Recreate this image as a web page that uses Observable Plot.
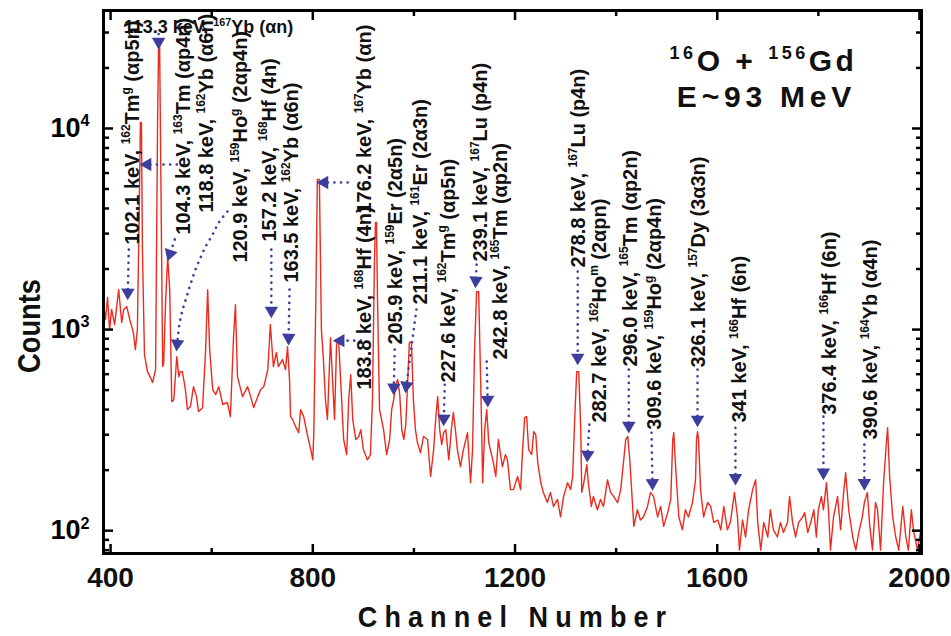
<!DOCTYPE html>
<html><head><meta charset="utf-8">
<script src="https://cdn.jsdelivr.net/npm/d3@7"></script>
<script src="https://cdn.jsdelivr.net/npm/@observablehq/plot@0.6"></script>
<style>
html,body{margin:0;padding:0;background:#fff;}
#chart{width:951px;height:636px;}
</style></head><body><div id="chart"></div>
<script>
// ---- data ----
const spectrum = [
[386,1331],[390,1122],[394,1443],[398,1000],[402,1259],[408,1059],[416,1580],[422,1083],[426,1259],[432,1301],
[438,1122],[445,966],[449,795],[453,1000],[457,4430],[459,10710],[461,10710],[463,2500],[467,751],[473,618],
[479,577],[483,545],[489,632],[493,11090],[495,25600],[497,25600],[499,7870],[503,655],[505,680],[509,1410],
[513,2280],[517,1580],[521,438],[525,448],[531,734],[535,583],[538,618],[542,618],[548,503],[552,400],
[558,414],[564,520],[570,464],[574,391],[582,409],[588,795],[592,1580],[596,795],[602,503],[608,475],
[614,520],[622,424],[631,434],[637,369],[643,892],[647,1331],[651,583],[661,464],[671,520],[677,464],
[683,409],[691,464],[697,503],[703,520],[711,632],[716,1059],[722,655],[728,769],[732,655],[740,709],
[746,632],[750,822],[754,564],[756,369],[760,357],[766,329],[772,307],[776,400],[782,369],[790,294],
[796,253],[800,225],[802,307],[806,1410],[809,5580],[813,5580],[817,1000],[821,709],[825,448],[829,357],
[835,912],[839,564],[843,357],[847,842],[851,892],[855,564],[861,284],[867,239],[871,448],[875,597],
[879,357],[885,284],[891,294],[895,318],[900,253],[908,225],[914,239],[918,448],[922,2230],[924,3410],
[926,3410],[928,1410],[932,400],[936,357],[940,318],[946,239],[952,284],[956,400],[960,448],[964,532],
[968,564],[972,475],[976,318],[980,284],[984,337],[987,503],[991,861],[995,871],[999,448],[1003,318],
[1007,274],[1013,244],[1019,294],[1027,284],[1033,186],[1039,253],[1043,357],[1047,464],[1051,318],[1055,268],
[1059,307],[1063,318],[1069,225],[1074,318],[1078,387],[1082,318],[1086,253],[1092,208],[1098,253],[1106,307],
[1112,173],[1116,253],[1120,795],[1124,1545],[1128,1545],[1132,564],[1136,173],[1140,318],[1144,400],[1148,274],
[1156,225],[1162,186],[1167,284],[1175,208],[1181,239],[1185,225],[1191,160],[1197,160],[1205,186],[1211,160],
[1215,253],[1219,365],[1223,369],[1227,253],[1233,239],[1237,311],[1241,300],[1245,218],[1251,173],[1256,155],
[1264,138],[1270,155],[1276,132],[1284,143],[1290,117],[1296,148],[1304,173],[1310,160],[1314,186],[1318,357],
[1322,618],[1326,618],[1330,318],[1332,155],[1336,173],[1342,213],[1345,173],[1351,132],[1355,148],[1363,127],
[1369,143],[1375,132],[1383,179],[1389,155],[1395,148],[1403,138],[1409,160],[1415,225],[1419,284],[1423,294],
[1427,225],[1429,186],[1435,105],[1442,127],[1448,113],[1454,117],[1462,132],[1468,155],[1474,148],[1482,117],
[1488,132],[1494,105],[1502,123],[1508,143],[1512,284],[1514,307],[1518,201],[1524,117],[1531,101],[1537,127],
[1543,117],[1551,138],[1557,179],[1559,284],[1561,311],[1563,284],[1567,160],[1573,117],[1581,138],[1587,132],
[1593,110],[1601,113],[1607,101],[1613,132],[1620,101],[1626,110],[1634,155],[1640,117],[1644,80],[1650,113],
[1656,93],[1662,127],[1670,160],[1676,179],[1680,110],[1686,80],[1692,110],[1700,93],[1705,127],[1711,101],
[1719,93],[1725,110],[1731,98],[1739,110],[1743,148],[1749,110],[1755,93],[1761,110],[1769,117],[1773,123],
[1779,98],[1785,110],[1791,127],[1796,93],[1800,127],[1806,148],[1810,127],[1816,173],[1820,127],[1824,80],
[1830,117],[1838,148],[1844,101],[1850,155],[1854,194],[1860,127],[1868,93],[1874,80],[1880,98],[1887,117],
[1891,138],[1897,155],[1901,110],[1907,80],[1913,138],[1917,127],[1923,80],[1929,173],[1935,284],[1937,325],
[1941,186],[1947,117],[1953,93],[1959,80],[1967,132],[1973,93],[1978,80],[1984,127],[1988,101],[1996,80],[2002,98]
];

const xTickLabels = [400, 800, 1200, 1600, 2000];
const xMinorTicks = [600, 1000, 1400, 1800];
const yTickLabels = [100, 1000, 10000];
const yMinorTicks = [80, 90, 200, 300, 400, 500, 600, 700, 800, 900, 2000, 3000, 4000, 5000, 6000, 7000, 8000, 9000, 20000, 30000];

// peak labels: text, channel of text column, count where the text starts
const peakLabels = [
  ["102.1 keV, ^{162}Tm^{g} (αp5n)", 442, 2649],
  ["104.3 keV, ^{163}Tm (αp4n)", 544, 2971],
  ["118.8 keV, ^{162}Yb (α6n)", 590, 3818],
  ["120.9 keV, ^{159}Ho^{g} (2αp4n)", 657, 2153],
  ["157.2 keV, ^{168}Hf (4n)", 713, 2741],
  ["163.5 keV, ^{162}Yb (α6n)", 758, 1714],
  ["176.2 keV, ^{167}Yb (αn)", 902, 3776],
  ["183.8 keV, ^{168}Hf (4n)", 902, 503],
  ["205.9 keV, ^{159}Er (2α5n)", 964, 842],
  ["211.1 keV, ^{161}Er (2α3n)", 1013, 1331],
  ["227.6 keV, ^{162}Tm^{g} (αp5n)", 1067, 545],
  ["239.1 keV, ^{167}Lu (p4n)", 1132, 2179],
  ["242.8 keV, ^{165}Tm (αp2n)", 1171, 709],
  ["278.8 keV, ^{167}Lu (p4n)", 1326, 2033],
  ["282.7 keV, ^{162}Ho^{m} (2αpn)", 1367, 345],
  ["296.0 keV, ^{165}Tm (αp2n)", 1427, 655],
  ["309.6 keV, ^{159}Ho^{g} (2αp4n)", 1476, 318],
  ["326.1 keV, ^{157}Dy (3α3n)", 1563, 647],
  ["341 keV, ^{166}Hf (6n)", 1644, 345],
  ["376.4 keV, ^{166}Hf (6n)", 1822, 377],
  ["390.6 keV, ^{164}Yb (α4n)", 1903, 284]
];
const topLabel = ["113.3 keV, ^{167}Yb (αn)", 426, 31800];

// arrows: list of [channel, count] points from tail to tip
const arrows = [
  [[436,2500],[434,1460]],
  [[495,29500],[495,25800]],
  [[531,6620],[465,6620]],
  [[527,2806],[515,2280]],
  [[631,3864],[614,3406],[602,2971],[588,2588],[578,2280],[568,1990],[558,1675],[550,1443],[542,1244],[536,1059],[533,912],[531,813]],
  [[718,2500],[718,1188]],
  [[754,1580],[752,871]],
  [[869,5390],[815,5390]],
  [[895,881],[847,881]],
  [[962,795],[960,492]],
  [[1005,1259],[984,503]],
  [[1061,532],[1059,345]],
  [[1124,2104],[1122,1675]],
  [[1144,693],[1146,428]],
  [[1324,1944],[1324,693]],
  [[1347,337],[1343,228]],
  [[1425,632],[1425,318]],
  [[1470,307],[1472,165]],
  [[1561,632],[1561,341]],
  [[1636,325],[1636,175]],
  [[1810,369],[1810,186]],
  [[1891,268],[1891,165]]
];

const titleLines = ["^{16}O + ^{156}Gd", "E~93 MeV"];
const xTitle = "Channel Number";
const yTitle = "Counts";

// ---- layout ----
const W = 951, H = 636;
const M = {top: 10, right: 30, bottom: 83, left: 103};
const xDomain = [386, 2004], yDomain = [77, 38600];
const FONT = '"Liberation Sans",Arial,Helvetica,sans-serif';
const RED = "#ec2b1f", BLUE = "#3d3d9e";

// mirror of plot scales used only to orient arrowheads
const xs = d3.scaleLinear(xDomain, [M.left, W - M.right]);
const ys = d3.scaleLog(yDomain, [H - M.bottom, M.top]);

const specData = spectrum.map(([ch, c]) => ({ch, c}));
const labelData = peakLabels.map(([t, ch, c]) => ({t, ch, c}));
const lineData = arrows.flatMap((pts, i) => pts.map(([ch, c]) => ({i, ch, c})));
const headData = arrows.map((pts, i) => {
  const [a, b] = [pts[pts.length - 2], pts[pts.length - 1]];
  const dx = xs(b[0]) - xs(a[0]), dy = ys(b[1]) - ys(a[1]);
  const L = Math.hypot(dx, dy) || 1;
  const px = xs(b[0]) - 4 * dx / L, py = ys(b[1]) - 4 * dy / L;
  return {i, ch: xs.invert(px), c: ys.invert(py), rot: Math.atan2(dx, -dy) * 180 / Math.PI};
});

const supFmt = d => "10^{" + Math.round(Math.log10(d)) + "}";
const tag = name => () => name;

const plot = Plot.plot({
  width: W, height: H,
  marginTop: M.top, marginRight: M.right, marginBottom: M.bottom, marginLeft: M.left,
  style: {fontFamily: FONT, background: "#fff", color: "#000"},
  x: {domain: xDomain},
  y: {type: "log", domain: yDomain},
  marks: [
    Plot.line(specData, {x: "ch", y: "c", stroke: RED, strokeWidth: 1.4, clip: true}),
    Plot.line(lineData, {x: "ch", y: "c", z: "i", stroke: BLUE, strokeWidth: 2.6, strokeDasharray: "0.1 6.5", strokeLinecap: "round", curve: "catmull-rom"}),
    Plot.dot(headData, {x: "ch", y: "c", symbol: "triangle", r: 5, fill: BLUE, stroke: "none", rotate: "rot"}),
    Plot.text(labelData, {x: "ch", y: "c", text: "t", rotate: -90, textAnchor: "start", lineAnchor: "middle", fontSize: 21, fontWeight: "bold", fill: "#111", ariaLabel: tag("peaklabel")}),
    Plot.text([topLabel], {x: d => d[1], y: d => d[2], text: d => d[0], textAnchor: "start", lineAnchor: "middle", fontSize: 18, fontWeight: "bold", fill: "#111"}),
    Plot.text([titleLines[0]], {frameAnchor: "top-right", dx: -158, dy: 51, text: d => d, textAnchor: "middle", lineAnchor: "middle", fontSize: 30, fontWeight: "bold", fill: "#111", ariaLabel: tag("title-a")}),
    Plot.text([titleLines[1]], {frameAnchor: "top-right", dx: -155, dy: 87, text: d => d, textAnchor: "middle", lineAnchor: "middle", fontSize: 30, fontWeight: "bold", fill: "#111", ariaLabel: tag("title-b")}),
    Plot.text([xTitle], {frameAnchor: "bottom", dy: 64, dx: 3, text: d => d, textAnchor: "middle", lineAnchor: "middle", fontSize: 30, fontWeight: "bold", fill: "#111", ariaLabel: tag("xtitle")}),
    Plot.text([yTitle], {frameAnchor: "left", dx: -73, dy: 44, rotate: -90, text: d => d, textAnchor: "middle", lineAnchor: "middle", fontSize: 31, fontWeight: "bold", fill: "#111", ariaLabel: tag("ytitle")}),
    Plot.text(xTickLabels, {x: d => d, frameAnchor: "bottom", dy: 25, text: d => String(d), textAnchor: "middle", lineAnchor: "middle", fontSize: 28, fontWeight: "bold", fill: "#111"}),
    Plot.axisX(xTickLabels, {anchor: "bottom", tickSize: -9, tickFormat: () => "", strokeWidth: 2.5, label: null}),
    Plot.axisX(xMinorTicks, {anchor: "bottom", tickSize: -5, tickFormat: () => "", strokeWidth: 2.5, label: null}),
    Plot.axisX(xTickLabels, {anchor: "top", tickSize: -9, tickFormat: () => "", strokeWidth: 2.5, label: null}),
    Plot.axisX(xMinorTicks, {anchor: "top", tickSize: -5, tickFormat: () => "", strokeWidth: 2.5, label: null}),
    Plot.axisY(yTickLabels, {anchor: "left", tickSize: -10, tickPadding: 24, tickFormat: supFmt, fontSize: 27, fontWeight: "bold", strokeWidth: 2.5, label: null}),
    Plot.axisY(yMinorTicks, {anchor: "left", tickSize: -6, tickFormat: () => "", strokeWidth: 2.5, label: null}),
    Plot.axisY(yTickLabels, {anchor: "right", tickSize: -10, tickFormat: () => "", strokeWidth: 2.5, label: null}),
    Plot.axisY(yMinorTicks, {anchor: "right", tickSize: -6, tickFormat: () => "", strokeWidth: 2.5, label: null}),
    Plot.frame({stroke: "#000", strokeWidth: 3})
  ]
});

document.getElementById("chart").appendChild(plot);

// render ^{...} as superscript tspans
function supify(root) {
  const ns = "http://www.w3.org/2000/svg";
  root.querySelectorAll("text").forEach(t => {
    const s = t.textContent;
    if (!s.includes("^{")) return;
    const fs = parseFloat(getComputedStyle(t).fontSize) || 16;
    while (t.firstChild) t.removeChild(t.firstChild);
    const rise = fs * 0.40;
    let shifted = false, last = 0, m;
    const add = (str, sup) => {
      const ts = document.createElementNS(ns, "tspan");
      ts.textContent = str;
      if (sup) { ts.setAttribute("font-size", (fs * 0.6).toFixed(1)); if (!shifted) ts.setAttribute("dy", (-rise).toFixed(1)); shifted = true; }
      else if (shifted) { ts.setAttribute("dy", rise.toFixed(1)); shifted = false; }
      t.appendChild(ts);
    };
    const re = /\^\{([^}]*)\}/g;
    while ((m = re.exec(s))) {
      if (m.index > last) add(s.slice(last, m.index), false);
      add(m[1], true);
      last = re.lastIndex;
    }
    if (last < s.length) add(s.slice(last), false);
  });
}
// condense glyphs horizontally (the reference uses a narrow face); scale about the text origin
function narrowify(sel, s) {
  plot.querySelectorAll(sel).forEach(t => {
    const tr = t.getAttribute("transform") || "";
    t.setAttribute("transform", `${tr} scale(${s},1)`.trim());
  });
}
function spacing(sel, px) {
  plot.querySelectorAll(sel).forEach(t => { t.setAttribute("letter-spacing", px); t.style.letterSpacing = px + "px"; });
}
supify(plot);
narrowify('text[aria-label="peaklabel"]', 0.95);
narrowify('text[aria-label="xtitle"]', 0.9);
narrowify('text[aria-label="ytitle"]', 0.88);
spacing('text[aria-label="title-a"]', 3.5);
spacing('text[aria-label="title-b"]', 4.8);
spacing('text[aria-label="xtitle"]', 7.9);
</script>
</body></html>
